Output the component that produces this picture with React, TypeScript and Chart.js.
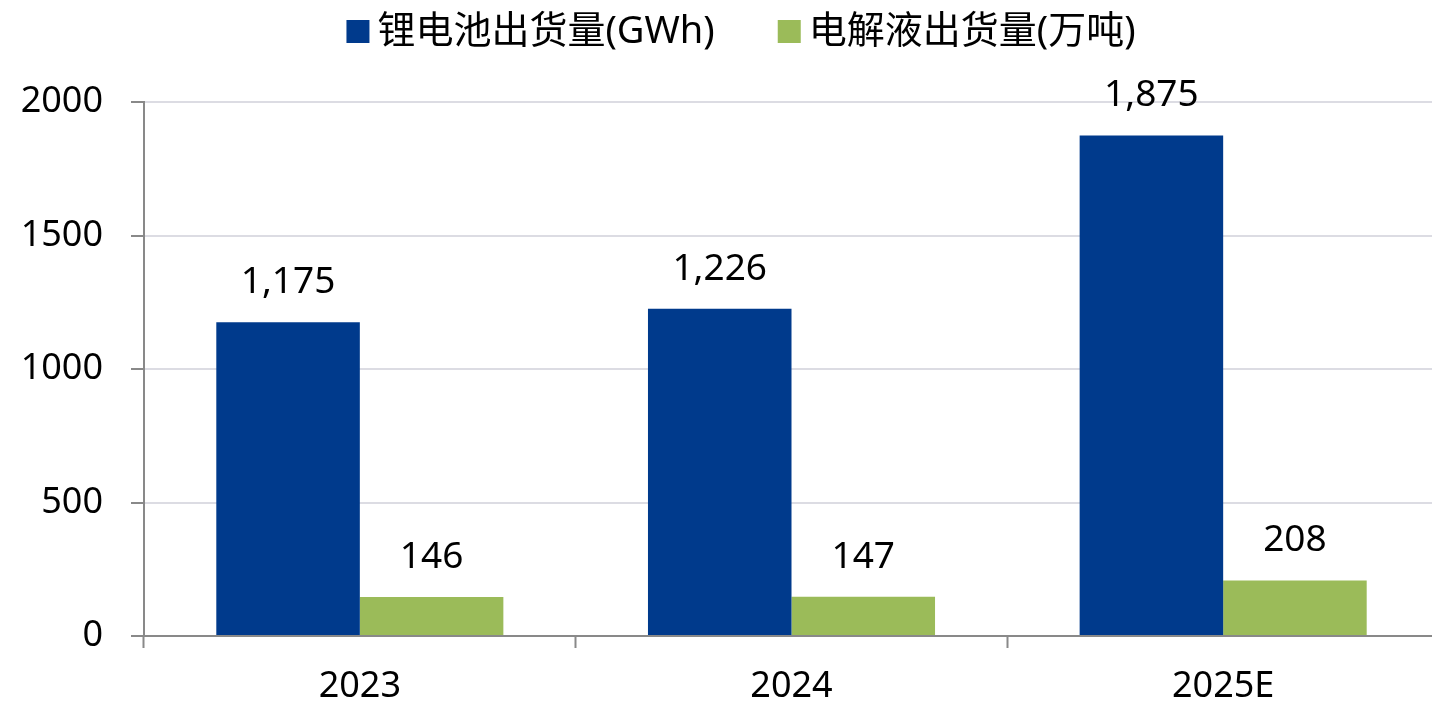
import React, { useEffect, useRef } from "react";
import { Chart, registerables } from "chart.js";

Chart.register(...registerables);

const categories = ["2023", "2024", "2025E"];
const batteryLabel = "锂电池出货量(GWh)";
const electrolyteLabel = "电解液出货量(万吨)";
const batteryValues = [1175, 1226, 1875];
const electrolyteValues = [146, 147, 208];
const yTicks = [0, 500, 1000, 1500, 2000];

const NUM_FONT = '"Noto Sans", "Noto Sans CJK SC", sans-serif';
const LEGEND_FONT = '"Noto Sans", "Noto Sans CJK SC", sans-serif';

const valueLabelPlugin = {
  id: "valueLabels",
  afterDatasetsDraw(chart: any) {
    const ctx = chart.ctx;
    ctx.save();
    ctx.font = `37px ${NUM_FONT}`;
    ctx.fillStyle = "#000000";
    ctx.textAlign = "center";
    ctx.textBaseline = "alphabetic";
    chart.data.datasets.forEach((ds: any, di: number) => {
      const meta = chart.getDatasetMeta(di);
      meta.data.forEach((bar: any, i: number) => {
        const v = ds.data[i];
        ctx.fillText(Number(v).toLocaleString("en-US"), bar.x, bar.y - 29);
      });
    });
    ctx.restore();
  },
};

const customLegendPlugin = {
  id: "customLegend",
  afterDraw(chart: any, _args: any, opts: any) {
    const ctx = chart.ctx;
    ctx.save();
    ctx.font = `${opts.fontSize}px ${LEGEND_FONT}`;
    ctx.textBaseline = "middle";
    ctx.textAlign = "left";
    const items = chart.data.datasets.map((ds: any) => ({
      text: ds.label,
      color: ds.backgroundColor,
      w: ctx.measureText(ds.label).width,
    }));
    const box = opts.boxSize;
    const gap = opts.boxGap;
    const spacing = opts.itemSpacing;
    let total = 0;
    items.forEach((it: any, i: number) => {
      total += box + gap + it.w + (i > 0 ? spacing : 0);
    });
    let x = opts.centerX - total / 2;
    const cy = opts.centerY;
    items.forEach((it: any) => {
      ctx.fillStyle = it.color;
      ctx.fillRect(x, cy - box / 2, box, box);
      ctx.fillStyle = "#000000";
      ctx.fillText(it.text, x + box + gap, cy + 1);
      x += box + gap + it.w + spacing;
    });
    ctx.restore();
  },
};

export default function App() {
  const canvasRef = useRef<HTMLCanvasElement | null>(null);

  useEffect(() => {
    if (!canvasRef.current) return;
    const chart = new Chart(canvasRef.current, {
      type: "bar",
      data: {
        labels: categories,
        datasets: [
          {
            label: batteryLabel,
            data: batteryValues,
            backgroundColor: "#003A8C",
            borderWidth: 0,
            categoryPercentage: 0.665,
            barPercentage: 1.0,
          },
          {
            label: electrolyteLabel,
            data: electrolyteValues,
            backgroundColor: "#9BBB59",
            borderWidth: 0,
            categoryPercentage: 0.665,
            barPercentage: 1.0,
          },
        ],
      },
      options: {
        responsive: false,
        animation: false,
        devicePixelRatio: 1,
        layout: { padding: { left: 20, top: 102, right: 0, bottom: 0 } },
        plugins: {
          legend: { display: false },
          tooltip: { enabled: false },
          customLegend: {
            centerX: 741,
            centerY: 31.5,
            boxSize: 23,
            boxGap: 8,
            itemSpacing: 63,
            fontSize: 38,
          },
        } as any,
        scales: {
          x: {
            offset: true,
            grid: {
              display: true,
              drawOnChartArea: false,
              drawTicks: true,
              tickLength: 12,
              tickColor: "#898989",
              tickWidth: 2,
              offset: true,
            },
            border: { display: true, color: "#898989", width: 2 },
            ticks: {
              color: "#000000",
              font: { size: 36, family: NUM_FONT },
              padding: 17,
              maxRotation: 0,
            },
            afterFit(scale: any) {
              scale.height = 74;
            },
          },
          y: {
            min: 0,
            max: 2000,
            afterBuildTicks(scale: any) {
              scale.ticks = yTicks.map((v) => ({ value: v }));
            },
            grid: {
              color: "#DCDCE3",
              lineWidth: 2,
              drawTicks: true,
              tickLength: 13,
              tickColor: "#898989",
              tickWidth: 2,
            },
            border: { display: true, color: "#898989", width: 2 },
            ticks: {
              color: "#000000",
              font: { size: 36, family: NUM_FONT },
              padding: 28,
              callback: (v: any) => String(v),
            },
            afterFit(scale: any) {
              scale.width = 124;
            },
          },
        },
      },
      plugins: [valueLabelPlugin, customLegendPlugin],
    });
    return () => chart.destroy();
  }, []);

  return (
    <div
      style={{
        position: "fixed",
        left: 0,
        top: 0,
        width: 1432,
        height: 710,
        overflow: "hidden",
        background: "#ffffff",
      }}
    >
      <canvas ref={canvasRef} width={1439} height={710} />
    </div>
  );
}
